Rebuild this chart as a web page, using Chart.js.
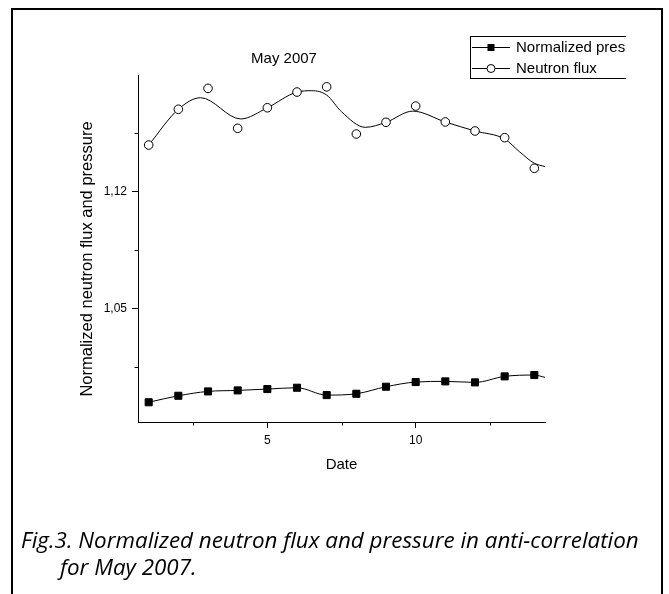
<!DOCTYPE html>
<html>
<head>
<meta charset="utf-8">
<script src="https://cdn.jsdelivr.net/npm/chart.js@4/dist/chart.umd.min.js"></script>
<style>
  html, body { margin: 0; padding: 0; background: #fff; }
  #wrap { position: relative; width: 669px; height: 594px; overflow: hidden; }
  #frame { position: absolute; left: 11px; top: 8px; width: 648px; height: 640px; border: 2px solid #000; }
  #chart { position: absolute; left: 0; top: 0; }
  .caption { position: absolute; font-family: "Open Sans", sans-serif; font-style: italic; color: #000; white-space: nowrap; line-height: 1; }
</style>
</head>
<body>
<div id="wrap">
  <div id="frame"></div>
  <canvas id="chart" width="669" height="594"></canvas>
  <div class="caption" id="cap1" style="left:21px; top:529px;">Fig.3. Normalized neutron flux and pressure in anti-correlation</div>
  <div class="caption" id="cap2" style="left:60px; top:556px;">for May 2007.</div>
</div>
<script>
// values (day of May 2007)
const days = [1, 2, 3, 4, 5, 6, 7, 8, 9, 10, 11, 12, 13, 14];
const pressure = [0.9938, 0.9977, 1.0003, 1.0009, 1.0017, 1.0025, 0.9981, 0.9989, 1.0031, 1.0059, 1.0063, 1.0057, 1.0093, 1.0101];
const neutronFlux = [1.1477, 1.1691, 1.1816, 1.1577, 1.1700, 1.1794, 1.1825, 1.1543, 1.1613, 1.1710, 1.1615, 1.1561, 1.1521, 1.1338];

// smoothed curves as drawn in the figure
const pressureFitDays = [1, 2, 3, 4, 5, 6, 7, 8, 9, 10, 11, 12, 13, 14, 14.36];
const pressureFit = [0.9938, 0.9977, 1.0003, 1.0009, 1.0017, 1.0025, 0.9981, 0.9989, 1.0031, 1.0059, 1.0063, 1.0057, 1.0093, 1.0101, 1.0087];
const fluxFitDays = [1, 2, 2.75, 4.1, 5, 6, 6.5, 7, 7.5, 8.3, 9, 9.9, 11, 12, 13, 13.5, 14, 14.36];
const fluxFit = [1.1477, 1.1691, 1.1760, 1.1633, 1.1700, 1.1794, 1.1802, 1.1776, 1.1676, 1.1583, 1.1613, 1.1680, 1.1615, 1.1561, 1.1513, 1.1437, 1.1368, 1.1348];

const xMajorTicks = [5, 10];
const xMinorTicks = [2.5, 7.5, 12.5];
const yMajorTicks = [1.05, 1.12];
const yMinorTicks = [1.015, 1.085, 1.155];

const seriesNames = ['Normalized pressure', 'Neutron flux'];
const chartTitle = 'May 2007';
const yTitle = 'Normalized neutron flux and pressure';

const FONT = 'Arial, "Liberation Sans", sans-serif';
const pts = (xs, ys) => xs.map((x, i) => ({ x: x, y: ys[i] }));

// minor ticks, titles and the clipped legend box
const extras = {
    id: 'extras',
    afterDraw(chart) {
        const ctx = chart.ctx;
        const xs = chart.scales.x, ys = chart.scales.y;
        const area = chart.chartArea;
        ctx.save();
        ctx.strokeStyle = '#000';
        ctx.lineWidth = 1;
        ctx.beginPath();
        xMinorTicks.forEach(v => {
            const px = Math.round(xs.getPixelForValue(v)) + 0.5;
            ctx.moveTo(px, area.bottom);
            ctx.lineTo(px, area.bottom + 3.5);
        });
        yMinorTicks.forEach(v => {
            const py = Math.round(ys.getPixelForValue(v)) + 0.5;
            ctx.moveTo(area.left - 3.5, py);
            ctx.lineTo(area.left, py);
        });
        ctx.stroke();

        ctx.fillStyle = '#000';
        ctx.font = '15px ' + FONT;
        ctx.textAlign = 'center';
        ctx.textBaseline = 'middle';
        ctx.fillText(chartTitle, 284, 59);

        // y axis title sits a little below the axis centre in the original
        ctx.save();
        ctx.translate(87, 259);
        ctx.rotate(-Math.PI / 2);
        ctx.font = '16.5px ' + FONT;
        ctx.fillText(yTitle, 0, 0);
        ctx.restore();

        // legend, cut off on the right like the original
        ctx.font = '15px ' + FONT;
        ctx.beginPath();
        ctx.rect(0, 0, 626, 594);
        ctx.clip();
        ctx.strokeRect(470.5, 36.5, 200, 42);
        const rows = [
            { y: 47, style: 'rect' },
            { y: 68, style: 'circle' }
        ];
        rows.forEach((r, i) => {
            ctx.beginPath();
            ctx.moveTo(472, r.y + 0.5);
            ctx.lineTo(510, r.y + 0.5);
            ctx.stroke();
            if (r.style === 'rect') {
                ctx.fillRect(487.5, r.y - 3, 7, 7);
            } else {
                ctx.beginPath();
                ctx.arc(491, r.y + 0.5, 4, 0, Math.PI * 2);
                ctx.fillStyle = '#fff';
                ctx.fill();
                ctx.stroke();
                ctx.fillStyle = '#000';
            }
            ctx.textAlign = 'left';
            ctx.fillText(seriesNames[i], 516, r.y + 1);
        });
        ctx.restore();
    }
};

new Chart(document.getElementById('chart'), {
    type: 'line',
    data: {
        datasets: [
            {
                label: seriesNames[0],
                data: pts(days, pressure),
                showLine: false,
                pointStyle: 'rect',
                pointRadius: 5,
                backgroundColor: '#000',
                borderColor: '#000',
                borderWidth: 1,
                order: 0
            },
            {
                label: seriesNames[1],
                data: pts(days, neutronFlux),
                showLine: false,
                pointStyle: 'circle',
                pointRadius: 4.3,
                backgroundColor: '#fff',
                borderColor: '#000',
                borderWidth: 1,
                order: 0
            },
            {
                label: 'pressure curve',
                data: pts(pressureFitDays, pressureFit),
                borderColor: '#000',
                borderWidth: 1,
                pointRadius: 0,
                fill: false,
                cubicInterpolationMode: 'monotone',
                order: 1
            },
            {
                label: 'flux curve',
                data: pts(fluxFitDays, fluxFit),
                borderColor: '#000',
                borderWidth: 1,
                pointRadius: 0,
                fill: false,
                cubicInterpolationMode: 'monotone',
                order: 1
            }
        ]
    },
    options: {
        responsive: false,
        animation: false,
        events: [],
        layout: { padding: { left: 77, right: 124, top: 75, bottom: 120 } },
        plugins: {
            legend: { display: false },
            tooltip: { enabled: false },
            title: { display: false }
        },
        scales: {
            x: {
                type: 'linear',
                min: 0.64,
                max: 14.36,
                afterBuildTicks: s => { s.ticks = xMajorTicks.map(v => ({ value: v })); },
                afterFit: s => { s.height = 52; },
                grid: { display: true, drawOnChartArea: false, drawTicks: true, tickLength: 6, color: '#000' },
                border: { display: true, color: '#000', width: 1 },
                ticks: { color: '#000', font: { family: FONT, size: 12 }, padding: 5, maxRotation: 0, callback: v => String(v) },
                title: { display: true, text: 'Date', color: '#000', font: { family: FONT, size: 15 }, padding: 0 }
            },
            y: {
                type: 'linear',
                min: 0.982,
                max: 1.1896,
                afterBuildTicks: s => { s.ticks = yMajorTicks.map(v => ({ value: v })); },
                afterFit: s => { s.width = 61; },
                grid: { display: true, drawOnChartArea: false, drawTicks: true, tickLength: 6, color: '#000' },
                border: { display: true, color: '#000', width: 1 },
                ticks: { color: '#000', font: { family: FONT, size: 12 }, padding: 5, callback: v => v.toFixed(2).replace('.', ',') },
                title: { display: false }
            }
        }
    },
    plugins: [extras]
});

// fit the caption to the width it has in the figure
const cap1 = document.getElementById('cap1');
const cap2 = document.getElementById('cap2');
const mc = document.createElement('canvas').getContext('2d');
mc.font = 'italic 20px "Open Sans"';
const w = mc.measureText(cap1.textContent).width;
const size = (20 * 618 / w).toFixed(2) + 'px';
cap1.style.fontSize = size;
cap2.style.fontSize = size;
</script>
</body>
</html>
